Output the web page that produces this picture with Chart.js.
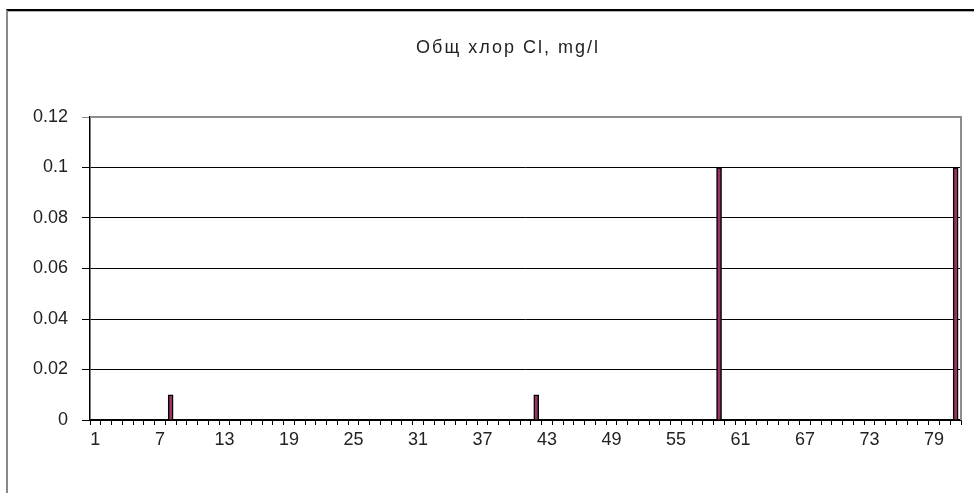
<!DOCTYPE html>
<html>
<head>
<meta charset="utf-8">
<script src="https://cdn.jsdelivr.net/npm/chart.js@4/dist/chart.umd.min.js"></script>
<style>
    body { margin: 0; background: #fff; overflow: hidden; }
    #frame {
        position: absolute; left: 6px; top: 9px; width: 1100px; height: 600px;
        border-top: 2px solid #000; border-left: 2px solid #8a8a8a;
        box-shadow: inset 0 1px 0 #b0b0b0;
    }
    #wrap { position: absolute; left: 0; top: 0; width: 974px; height: 493px; }
</style>
</head>
<body>
<div id="frame"></div>
<div id="wrap"><canvas id="chlorChart" width="974" height="493"></canvas></div>
<script>
// --- Données ---
const chartTitle = 'Общ хлор Cl, mg/l';
const categories = ['1','2','3','4','5','6','7','8','9','10','11','12','13','14','15','16','17','18','19','20',
    '21','22','23','24','25','26','27','28','29','30','31','32','33','34','35','36','37','38','39','40',
    '41','42','43','44','45','46','47','48','49','50','51','52','53','54','55','56','57','58','59','60',
    '61','62','63','64','65','66','67','68','69','70','71','72','73','74','75','76','77','78','79','80','81'];
const chlorValues = [0,0,0,0,0,0,0,0.01,0,0,0,0,0,0,0,0,0,0,0,0,
    0,0,0,0,0,0,0,0,0,0,0,0,0,0,0,0,0,0,0,0,
    0,0.01,0,0,0,0,0,0,0,0,0,0,0,0,0,0,0,0,0.1,0,
    0,0,0,0,0,0,0,0,0,0,0,0,0,0,0,0,0,0,0,0,0.1];
const yTicks = [0, 0.02, 0.04, 0.06, 0.08, 0.1, 0.12];

const fontFamily = '"Liberation Sans", Arial, sans-serif';

// Cadre de la zone de tracé + titre
const plotFrame = {
    id: 'plotFrame',
    beforeDatasetsDraw(chart) {
        const { ctx, chartArea } = chart;
        ctx.save();
        ctx.strokeStyle = '#8c8c8c';
        ctx.lineWidth = 2;
        ctx.beginPath();
        ctx.moveTo(chartArea.left, chartArea.top);
        ctx.lineTo(chartArea.right, chartArea.top);
        ctx.lineTo(chartArea.right, chartArea.bottom);
        ctx.stroke();
        ctx.restore();
    },
    afterDraw(chart) {
        const ctx = chart.ctx;
        ctx.save();
        ctx.fillStyle = '#222';
        ctx.font = '18px ' + fontFamily;
        ctx.letterSpacing = '2px';
        ctx.textAlign = 'center';
        ctx.textBaseline = 'middle';
        ctx.fillText(chartTitle, 508, 48);
        ctx.restore();
    }
};

const ctx = document.getElementById('chlorChart').getContext('2d');
ctx.letterSpacing = '1.5px';
new Chart(ctx, {
    type: 'bar',
    data: {
        labels: categories,
        datasets: [{
            data: chlorValues,
            backgroundColor: '#993366',
            borderColor: '#000',
            borderWidth: 1.5,
            borderSkipped: 'bottom',
            barThickness: 5
        }]
    },
    options: {
        responsive: false,
        animation: false,
        events: [],
        layout: { padding: { left: 0, right: 13, top: 117, bottom: 0 } },
        plugins: {
            legend: { display: false },
            title: { display: false },
            tooltip: { enabled: false }
        },
        scales: {
            x: {
                offset: true,
                grid: {
                    offset: true,
                    drawOnChartArea: false,
                    drawTicks: true,
                    tickLength: 5,
                    color: '#000'
                },
                border: { color: '#000', width: 1.5 },
                ticks: {
                    autoSkip: false,
                    maxRotation: 0,
                    padding: 4,
                    color: '#222',
                    font: { family: fontFamily, size: 18 },
                    callback: (value, index) => (index % 6 === 0 ? categories[index] : '')
                },
                afterFit: (scale) => { scale.height = 73; }
            },
            y: {
                min: 0,
                max: 0.12,
                afterBuildTicks: (scale) => { scale.ticks = yTicks.map(v => ({ value: v })); },
                grid: {
                    color: (c) => (c.tick && c.tick.value === 0.12 ? '#8c8c8c' : '#000'),
                    lineWidth: 1,
                    tickLength: 8
                },
                border: { color: '#000', width: 1.5 },
                ticks: {
                    padding: 14,
                    color: '#222',
                    font: { family: fontFamily, size: 18 },
                    callback: (value) => String(+value.toFixed(2))
                },
                afterFit: (scale) => { scale.width = 90; }
            }
        }
    },
    plugins: [plotFrame]
});
</script>
</body>
</html>
